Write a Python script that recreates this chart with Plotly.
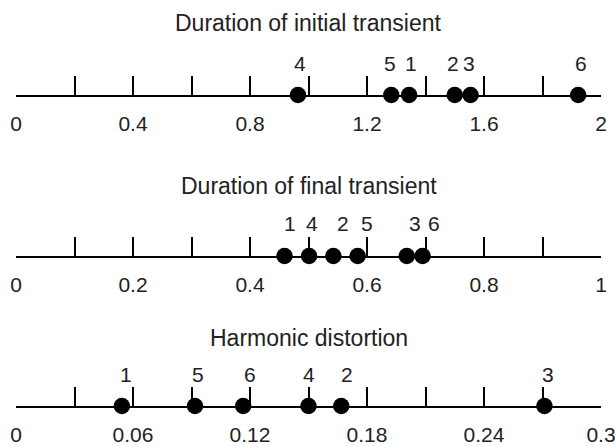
import plotly.graph_objects as go

# ---------------- data ----------------
labels = ["1", "2", "3", "4", "5", "6"]
initial_transient = [1.344, 1.500, 1.554, 0.964, 1.283, 1.922]
final_transient = [0.459, 0.5425, 0.668, 0.501, 0.584, 0.695]
harmonic_distortion = [0.0543, 0.1668, 0.271, 0.150, 0.0918, 0.1165]

titles = ["Duration of initial transient", "Duration of final transient", "Harmonic distortion"]
ranges = [2.0, 1.0, 0.3]
tick_steps = [0.2, 0.1, 0.03]
label_every = [2, 2, 2]
tick_fmt = ["{:g}", "{:g}", "{:g}"]

# ---------------- layout (pixels) ----------------
W, H = 615, 446
x_left, x_right = 16, 601
line_px = [95, 256, 406]
title_px = [23, 186, 338]
num_px_above = 32
panel_h = 60
# small horizontal nudges of the point labels (style only)
label_dx = [
    [2, -2, -2, 2, -1, 3],
    [5, 10, 8, 3, 9, 11],
    [4, 6, 4, 0, 3, 7],
]

font_main = "Liberation Sans, Arial, sans-serif"

series = [initial_transient, final_transient, harmonic_distortion]

fig = go.Figure()
annotations = []
for i, vals in enumerate(series):
    k = i + 1
    xa = "x" if k == 1 else f"x{k}"
    ya = "y" if k == 1 else f"y{k}"
    fig.add_trace(go.Scatter(
        x=vals, y=[0] * len(vals), mode="markers",
        marker=dict(size=16.5, color="black"),
        xaxis=xa, yaxis=ya, showlegend=False, hoverinfo="x", cliponaxis=False,
    ))
    n = int(round(ranges[i] / tick_steps[i]))
    tv = [round(j * tick_steps[i], 6) for j in range(n + 1)]
    tt = [tick_fmt[i].format(v) if j % label_every[i] == 0 else "" for j, v in enumerate(tv)]
    y0 = 1 - line_px[i] / H
    y1 = y0 + panel_h / H
    xkey = "xaxis" if k == 1 else f"xaxis{k}"
    ykey = "yaxis" if k == 1 else f"yaxis{k}"
    fig.layout[xkey] = dict(
        domain=[x_left / W, x_right / W], range=[0, ranges[i]],
        anchor=ya, showline=True, linewidth=2, linecolor="black",
        ticks="inside", ticklen=19, tickwidth=2, tickcolor="black",
        tickvals=tv, ticktext=tt, showgrid=False, zeroline=False,
        tickfont=dict(size=21, color="#222", family=font_main),
        ticklabelstandoff=9, ticklabeloverflow="allow",
        fixedrange=True, automargin=False,
    )
    fig.layout[ykey] = dict(
        domain=[y0, y1], range=[0, panel_h], anchor=xa,
        visible=False, fixedrange=True, automargin=False,
    )
    for lab, v, dx in zip(labels, vals, label_dx[i]):
        annotations.append(dict(
            x=v, y=num_px_above, xref=xa, yref=ya, text=lab, showarrow=False,
            xshift=dx, xanchor="center", yanchor="middle",
            font=dict(size=21, color="#222", family=font_main),
        ))
    annotations.append(dict(
        x=(x_left + x_right) / 2 / W, y=1 - title_px[i] / H, xref="paper", yref="paper",
        text=titles[i], showarrow=False, xanchor="center", yanchor="middle",
        font=dict(size=23, color="#222", family=font_main),
    ))

fig.update_layout(
    width=W, height=H, margin=dict(l=0, r=0, t=0, b=0, autoexpand=False),
    paper_bgcolor="white", plot_bgcolor="white",
    annotations=annotations,
)

fig.write_html("out.html")
